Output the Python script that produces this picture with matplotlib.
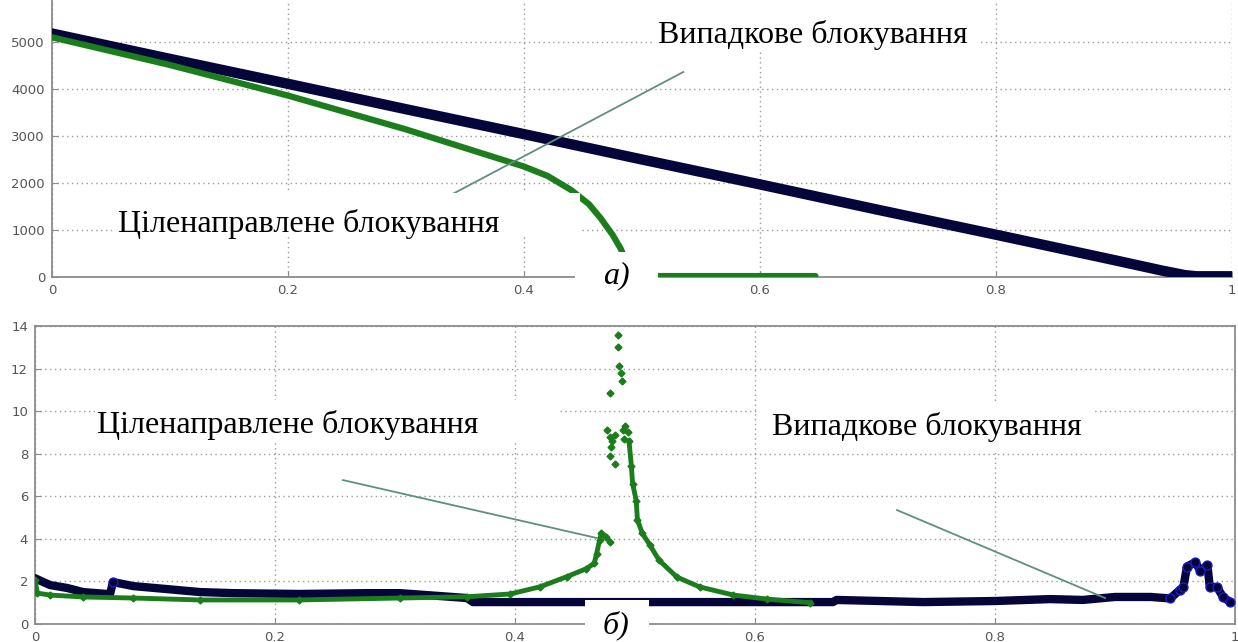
import matplotlib
matplotlib.use("Agg")
import matplotlib.pyplot as plt
from matplotlib.patches import Rectangle

# ---------------- data ----------------
xticks = [0, 0.2, 0.4, 0.6, 0.8, 1.0]
xtick_labels = ["0", "0.2", "0.4", "0.6", "0.8", "1"]
top_yticks = [0, 1000, 2000, 3000, 4000, 5000]
bot_yticks = [0, 2, 4, 6, 8, 10, 12, 14]

# top panel (a)
top_x_rand = [0, 0.1, 0.2, 0.3, 0.4, 0.5, 0.6, 0.7, 0.8, 0.9, 0.94, 0.96, 0.97, 1.0]
top_y_rand = [5180, 4640, 4110, 3570, 3040, 2500, 1970, 1430, 900, 360, 140, 40, 15, 15]

top_x_targ = [0, 0.1, 0.2, 0.3, 0.4, 0.42, 0.44, 0.455, 0.465, 0.475, 0.482,
              0.487, 0.49, 0.5, 0.55, 0.6, 0.647]
top_y_targ = [5100, 4510, 3860, 3140, 2350, 2150, 1850, 1550, 1250, 900, 600,
              300, 30, 20, 20, 20, 20]

# bottom panel (б)
bot_x_rand = [0, 0.0125, 0.027, 0.04, 0.0625, 0.065, 0.082, 0.11, 0.1375, 0.165,
              0.22, 0.277, 0.304, 0.36, 0.365, 0.443, 0.554, 0.665, 0.668, 0.74,
              0.80, 0.846, 0.873, 0.90, 0.93, 0.946, 0.954, 0.957, 0.96, 0.967,
              0.971, 0.977, 0.979, 0.985, 0.99, 0.996]
bot_y_rand = [2.15, 1.83, 1.69, 1.5, 1.4, 1.97, 1.78, 1.64, 1.5, 1.45,
              1.41, 1.45, 1.45, 1.22, 1.03, 1.03, 1.03, 1.03, 1.13, 1.03,
              1.08, 1.17, 1.13, 1.27, 1.27, 1.2, 1.6, 1.74, 2.7, 2.9,
              2.5, 2.77, 1.74, 1.74, 1.27, 1.03]

bot_x_targ_left = [0, 0.002, 0.0125, 0.04, 0.082, 0.1375, 0.22, 0.304, 0.36, 0.396,
                   0.421, 0.443, 0.4595, 0.466, 0.468, 0.4705, 0.472, 0.476, 0.479]
bot_y_targ_left = [2.07, 1.45, 1.36, 1.27, 1.22, 1.13, 1.13, 1.22, 1.28, 1.41,
                   1.75, 2.22, 2.6, 2.85, 3.3, 3.94, 4.27, 4.1, 3.86]

bot_x_targ_peak = [0.486, 0.486, 0.487, 0.488, 0.489, 0.479, 0.477, 0.479, 0.481,
                   0.483, 0.479, 0.483, 0.490, 0.492, 0.494, 0.491, 0.480]
bot_y_targ_peak = [13.6, 13.0, 12.1, 11.8, 11.4, 10.85, 9.1, 8.8, 8.6,
                   8.9, 7.9, 7.5, 9.1, 9.3, 9.0, 8.7, 8.3]

bot_x_targ_right = [0.495, 0.497, 0.498, 0.501, 0.502, 0.506, 0.5125, 0.52, 0.535,
                    0.554, 0.582, 0.61, 0.646]
bot_y_targ_right = [8.6, 7.4, 6.6, 5.8, 4.9, 4.27, 3.7, 3.0, 2.2,
                    1.74, 1.36, 1.17, 1.0]

label_rand = "Випадкове блокування"
label_targ = "Ціленаправлене блокування"
label_a = "а)"
label_b = "б)"

# ---------------- style ----------------
W, H = 1238, 642
NAVY = "#05053a"
BLUE_EDGE = "#1c1cdc"
GREEN = "#1b7d1b"
SPINE = "#8c8c8c"
ANN = "#5f8f7f"

fig = plt.figure(figsize=(W / 100, H / 100), dpi=100)


def fx(px):
    return px / W


def fy(py):
    return 1 - py / H


def style_axes(ax, yticks, show_top):
    ax.set_xticks(xticks)
    ax.set_xticklabels(xtick_labels)
    ax.set_yticks(yticks)
    ax.set_yticklabels([str(v) for v in yticks])
    ax.grid(True, linestyle=(0, (1, 2.5)), color="#9a9a9a", linewidth=1.0)
    ax.set_axisbelow(True)
    for s in ["left", "bottom", "top", "right"]:
        ax.spines[s].set_color(SPINE)
        ax.spines[s].set_linewidth(1.3)
    ax.spines["right"].set_visible(False)
    ax.spines["top"].set_visible(show_top)
    ax.tick_params(direction="in", length=4, color=SPINE, labelsize=9.5,
                   labelcolor="#555555", pad=5)


# top axes
ax1 = fig.add_axes([fx(52), fy(277), fx(1232 - 52), 277 / H])
ax1.plot(top_x_rand, top_y_rand, color=NAVY, lw=7.5, solid_capstyle="round",
         zorder=3)
ax1.plot(top_x_targ, top_y_targ, color=GREEN, lw=4.5, solid_capstyle="round",
         zorder=4)
ax1.set_xlim(0, 1)
ax1.set_ylim(0, 277 / 47 * 1000)
style_axes(ax1, top_yticks, False)
ax1.plot([0.535, 0.330], [4362, 1640], color=ANN, lw=1.3, zorder=5)

# bottom axes
ax2 = fig.add_axes([fx(35), fy(624), fx(1200), (624 - 326) / H])
mark_idx = [5] + list(range(25, len(bot_x_rand)))
ax2.plot(bot_x_rand, bot_y_rand, color=NAVY, lw=6, marker="o", ms=6.5,
         mfc=NAVY, mec=BLUE_EDGE, mew=0.9, markevery=mark_idx,
         solid_capstyle="round", zorder=3)
ax2.plot(bot_x_targ_left, bot_y_targ_left, color=GREEN, lw=3.5, marker="D",
         ms=3.5, mec=GREEN, zorder=4)
ax2.plot(bot_x_targ_peak, bot_y_targ_peak, color=GREEN, lw=0, marker="D",
         ms=3.5, mec=GREEN, zorder=4)
ax2.plot(bot_x_targ_right, bot_y_targ_right, color=GREEN, lw=3.5, marker="D",
         ms=3.5, mec=GREEN, zorder=4)
ax2.set_xlim(0, 1)
ax2.set_ylim(0, 14)
style_axes(ax2, bot_yticks, True)
ax2.spines["right"].set_visible(True)
ax2.plot([(343 - 35) / 1200, (597 - 35) / 1200],
         [(624 - 480) / 21.3, (624 - 538) / 21.3], color=ANN, lw=1.3, zorder=5)
ax2.plot([(897 - 35) / 1200, (1105 - 35) / 1200],
         [(624 - 510) / 21.3, (624 - 598) / 21.3], color=ANN, lw=1.3, zorder=5)

# white cover boxes (pixel rectangles: x0, y0, x1, y1)
boxes = [
    (655, 0, 980, 50),
    (113, 193, 580, 236),
    (575, 252, 658, 292),
    (95, 400, 560, 440),
    (760, 403, 1093, 450),
    (585, 600, 649, 642),
]
for x0, y0, x1, y1 in boxes:
    fig.add_artist(Rectangle((fx(x0), fy(y1)), fx(x1 - x0), (y1 - y0) / H,
                             transform=fig.transFigure, facecolor="white",
                             edgecolor="none", zorder=2))

FS = 23
serif = ["Liberation Serif", "DejaVu Serif"]
texts = [
    (658, 43, label_rand, "normal"),
    (118, 232, label_targ, "normal"),
    (603, 283, label_a, "italic"),
    (97, 433, label_targ, "normal"),
    (772, 435, label_rand, "normal"),
    (603, 633, label_b, "italic"),
]
for x, y, s, st in texts:
    fig.text(fx(x), fy(y), s, fontsize=FS, family=serif, style=st,
             ha="left", va="baseline", color="black", zorder=5)

fig.savefig("out.png", dpi=100)
